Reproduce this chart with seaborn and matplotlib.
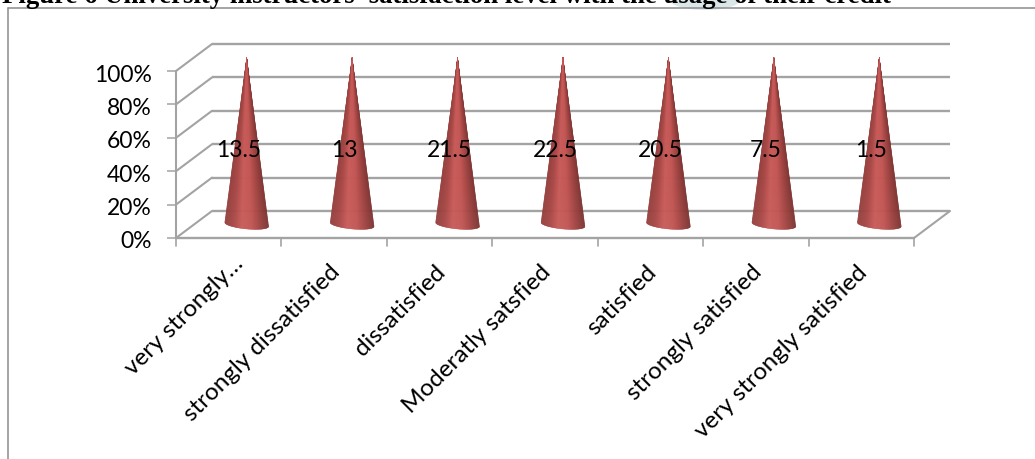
import numpy as np
import pandas as pd
import matplotlib
matplotlib.use("Agg")
import matplotlib.pyplot as plt
from matplotlib.collections import PolyCollection
from matplotlib.colors import LinearSegmentedColormap
from matplotlib.lines import Line2D
from matplotlib.patches import Ellipse
from matplotlib.transforms import ScaledTranslation
import seaborn as sns

categories = [
    "very strongly\u2026",
    "strongly dissatisfied",
    "dissatisfied",
    "Moderatly satsfied",
    "satisfied",
    "strongly satisfied",
    "very strongly satisfied",
]
responses = [13.5, 13, 21.5, 22.5, 20.5, 7.5, 1.5]
percent_ticks = [0, 20, 40, 60, 80, 100]
title_text = "Figure 6 University instructors' satisfaction level with the usage of their credit"

W, H = 1035, 459
GRID = "#a3a3a3"
FRAME = "#8c8c8c"
FONT = "Lato"

sns.set_theme(style="white")
plt.rcParams["font.family"] = [FONT, "DejaVu Sans"]

df = pd.DataFrame({"category": categories, "response": responses})
# A single-series 100% stacked column: every category fills its own total.
df["share"] = df["response"] / df["response"] * 100

fig = plt.figure(figsize=(W / 100, H / 100), dpi=100, facecolor="white")
ax = fig.add_axes([176 / W, 1 - 238 / H, 738 / W, 167 / H])

sns.barplot(data=df, x="category", y="share", order=categories, width=0.417,
            color="#c05050", ax=ax, errorbar=None)
ax.set_xlim(-0.5, len(categories) - 0.5)
ax.set_ylim(0, 100)
ax.set_xlabel("")
ax.set_ylabel("")
for side in ax.spines.values():
    side.set_visible(False)
ax.patch.set_alpha(0)

# Oblique depth of the pseudo-3D box, in data units
depth_x = 36 / (738 / len(categories))
depth_y = 27 / (167 / 100)
x0, x1 = ax.get_xlim()

# Back wall gridlines and the left wall diagonals
for t in percent_ticks:
    ax.plot([x0 + depth_x, x1 + depth_x], [t + depth_y, t + depth_y], color=GRID, lw=1.7,
            clip_on=False, zorder=1, solid_capstyle="butt")
    ax.plot([x0, x0 + depth_x], [t, t + depth_y], color=GRID, lw=1.5, clip_on=False, zorder=1)
# Floor edge on the right, then the front axes
ax.plot([x1, x1 + depth_x], [0, depth_y], color=GRID, lw=1.5, clip_on=False, zorder=1)
ax.plot([x0, x1], [0, 0], color=GRID, lw=1.7, clip_on=False, zorder=1)
ax.plot([x0, x0], [0, 100], color=GRID, lw=1.5, clip_on=False, zorder=1)

# Cones are built from the bars' own geometry
shade = LinearSegmentedColormap.from_list(
    "cone", ["#94403e", "#a84846", "#c95c5a", "#c25654", "#a04442", "#7c3432"])
patches = list(ax.patches)
for bar in patches:
    bar.set_visible(False)
    cx = bar.get_x() + bar.get_width() / 2 + depth_x / 2
    half = bar.get_width() / 2
    base = depth_y / 2
    top = bar.get_height() + depth_y / 2
    rim = 4.5 / 1.67
    u = np.linspace(-1, 1, 121)
    px = cx + half * u
    py = base - rim * np.sqrt(1 - u ** 2) - 1.2 * u
    # Paint the facets from the silhouette inward so the lit centre ends on top
    order = np.argsort(-np.abs(u[:-1] + u[1:]))
    tris = [[(px[i], py[i]), (px[i + 1], py[i + 1]), (cx, top)] for i in order]
    mids = (u[:-1] + u[1:])[order] / 4 + 0.5
    cols = shade(mids)
    ax.add_collection(PolyCollection(tris, facecolors=cols, edgecolors=cols, linewidths=0.2,
                                     clip_on=False, zorder=3))

# Data labels sit just above mid height, slightly left of each cone's axis
for i, value in enumerate(responses):
    ax.annotate(f"{value:g}", xy=(i, 50), xytext=(10, 4), textcoords="offset pixels",
                xycoords="data", ha="center", va="center", fontsize=16.5, color="black",
                zorder=5, annotation_clip=False, fontfamily=FONT)

# Ticks
ax.set_yticks(percent_ticks)
ax.set_yticklabels([f"{t}%" for t in percent_ticks], fontsize=16.5, color="black")
ax.tick_params(axis="y", left=True, length=6.5, width=1.1, color=GRID, pad=11)
ax.tick_params(axis="x", bottom=False, pad=11)
ax.set_xticks(range(len(categories)))
ax.set_xticklabels(categories, rotation=45, ha="right", va="top", rotation_mode="anchor",
                   fontsize=17.5, color="black")
down = ScaledTranslation(0, -2 / 100, fig.dpi_scale_trans)
for lab in ax.get_yticklabels():
    lab.set_transform(lab.get_transform() + down)
# Category labels hang a little left of their slots; the truncated first one sits higher
left = ScaledTranslation(-5 / 100, 0, fig.dpi_scale_trans)
first_nudge = ScaledTranslation(9 / 100, 9 / 100, fig.dpi_scale_trans)
for i, lab in enumerate(ax.get_xticklabels()):
    lab.set_transform(lab.get_transform() + left + (first_nudge if i == 0 else ScaledTranslation(0, 0, fig.dpi_scale_trans)))
for edge in np.arange(x0, x1 + 0.5):
    ax.plot([edge, edge], [0, -5], color=GRID, lw=1.2, clip_on=False, zorder=1)

# Outer frame of the embedded chart, open at the right and bottom
fig.add_artist(Line2D([8 / W, 8 / W], [0, 1 - 8 / H], color=FRAME, lw=1.1))
fig.add_artist(Line2D([8 / W, 1], [1 - 8 / H, 1 - 8 / H], color=FRAME, lw=1.1))

# Caption, running off the top edge, with a faint smudge behind it
fig.add_artist(Ellipse((705 / W, 1 - 0 / H), 70 / W, 20 / H, facecolor="#dbe6e9", edgecolor="none"))
fig.text(2 / W, 1 - 3 / H, title_text, family="Liberation Serif", weight="bold",
         fontsize=19.3, color="black", ha="left", va="baseline")

fig.savefig("out.png", dpi=100, facecolor="white")
